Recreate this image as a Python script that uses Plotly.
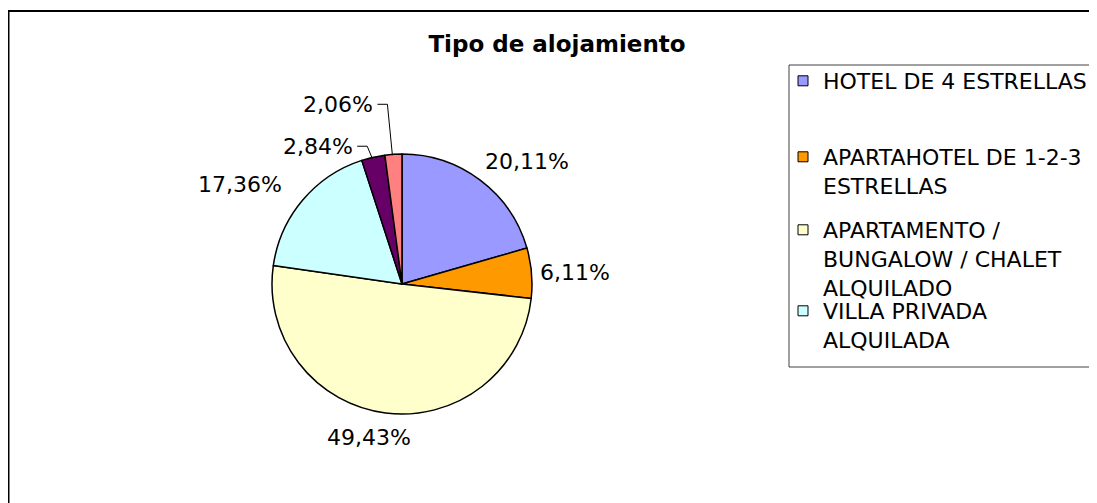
import math
import plotly.graph_objects as go

categories = [
    "HOTEL DE 4 ESTRELLAS",
    "APARTAHOTEL DE 1-2-3 ESTRELLAS",
    "APARTAMENTO / BUNGALOW / CHALET ALQUILADO",
    "VILLA PRIVADA ALQUILADA",
    "OTROS 1",
    "OTROS 2",
]
values = [20.11, 6.11, 49.43, 17.36, 2.84, 2.06]
colors = ["#9999FF", "#FF9900", "#FFFFCC", "#CCFFFF", "#660066", "#FF8080"]
legend_labels = [
    "HOTEL DE 4 ESTRELLAS",
    "APARTAHOTEL DE 1-2-3<br>ESTRELLAS",
    "APARTAMENTO /<br>BUNGALOW / CHALET<br>ALQUILADO",
    "VILLA PRIVADA<br>ALQUILADA",
]
title = "Tipo de alojamiento"

# page geometry (the page body has an 8px margin)
OFF = 8
W, H = 1097 - OFF, 503 - OFF
FONT = "DejaVu Sans, Verdana, sans-serif"

# pie geometry in window pixels
CX, CY, R = 402, 284, 130


def px(X):
    return (X - OFF) / W


def py(Y):
    return 1 - (Y - OFF) / H


fig = go.Figure()
fig.add_trace(go.Pie(
    labels=categories,
    values=values,
    marker=dict(colors=colors, line=dict(color="black", width=1.5)),
    sort=False,
    direction="clockwise",
    rotation=0,
    textinfo="none",
    showlegend=False,
    hoverinfo="label+value",
    domain=dict(x=[px(CX - R), px(CX + R)], y=[py(CY + R), py(CY - R)]),
))

# legend-only traces, one legend per item so each can be placed
legend_centers = [82, 158, 231, 312]
legend_names = ["legend", "legend2", "legend3", "legend4"]
for i, lab in enumerate(legend_labels):
    fig.add_trace(go.Scatter(
        x=[None], y=[None], mode="markers", name=lab,
        marker=dict(symbol="square", size=10, color=colors[i], line=dict(color="black", width=1)),
        legend=legend_names[i], showlegend=True, hoverinfo="skip",
    ))

layout_legends = {}
for i, ln in enumerate(legend_names):
    layout_legends[ln] = dict(
        x=px(823 - 40 + OFF - OFF), xanchor="left",
        y=py(legend_centers[i] - 22), yanchor="top",
        bgcolor="rgba(0,0,0,0)", borderwidth=0,
        font=dict(family=FONT, size=22, color="black"),
        valign="top", itemclick=False, itemdoubleclick=False,
    )

# data labels computed from the slice angles
total = sum(values)
annotations = []
shapes = [
    dict(type="rect", xref="paper", yref="paper", x0=px(OFF + 0.5), x1=1.02, y0=-0.02, y1=py(11),
         line=dict(color="black", width=2), fillcolor="rgba(0,0,0,0)", layer="below"),
    dict(type="rect", xref="paper", yref="paper", x0=px(789), x1=1.02, y0=py(367), y1=py(65),
         line=dict(color="#404040", width=1), fillcolor="rgba(0,0,0,0)", layer="below"),
]
leader_offsets = {4: (-18, -11), 5: (-18, -50)}
label_nudge = {0: (-3, -4), 1: (-4, 0), 2: (-15, 0), 3: (-11, -5)}
cum = 0.0
for i, v in enumerate(values):
    mid = (cum + v / 2) / total * 2 * math.pi
    cum += v
    s, c = math.sin(mid), math.cos(mid)
    text = f"{v:.2f}".replace(".", ",") + "%"
    if i in leader_offsets:
        ex, ey = CX + R * s, CY - R * c
        dx, dy = leader_offsets[i]
        lx, ly = ex + dx, ey + dy
        annotations.append(dict(
            x=px(lx), y=py(ly), xref="paper", yref="paper", text=text, showarrow=False,
            xanchor="right", yanchor="middle", font=dict(family=FONT, size=22, color="black"),
        ))
        path = (f"M {px(lx + 2)},{py(ly)} L {px(lx + 12)},{py(ly)} L {px(ex - 1)},{py(ey + 1)}")
        shapes.append(dict(type="path", xref="paper", yref="paper", path=path,
                           line=dict(color="black", width=1)))
    else:
        rr = R + 10
        ax_, ay_ = CX + rr * s, CY - rr * c
        xa = "left" if s > 0.3 else ("right" if s < -0.3 else "center")
        ya = "bottom" if c > 0.3 else ("top" if c < -0.3 else "middle")
        nx, ny = label_nudge.get(i, (0, 0))
        annotations.append(dict(
            x=px(ax_), y=py(ay_), xref="paper", yref="paper", text=text, showarrow=False,
            xanchor=xa, yanchor=ya, xshift=nx, yshift=ny,
            font=dict(family=FONT, size=22, color="black"),
        ))

fig.update_layout(
    width=W, height=H,
    margin=dict(l=0, r=0, t=0, b=0),
    paper_bgcolor="white", plot_bgcolor="white",
    xaxis=dict(visible=False), yaxis=dict(visible=False),
    title=dict(text=title, x=px(557), xanchor="center", y=py(44), yanchor="middle",
               font=dict(family=FONT, size=23, color="black", weight="bold")),
    shapes=shapes,
    annotations=annotations,
    **layout_legends,
)

fig.write_html("out.html")
